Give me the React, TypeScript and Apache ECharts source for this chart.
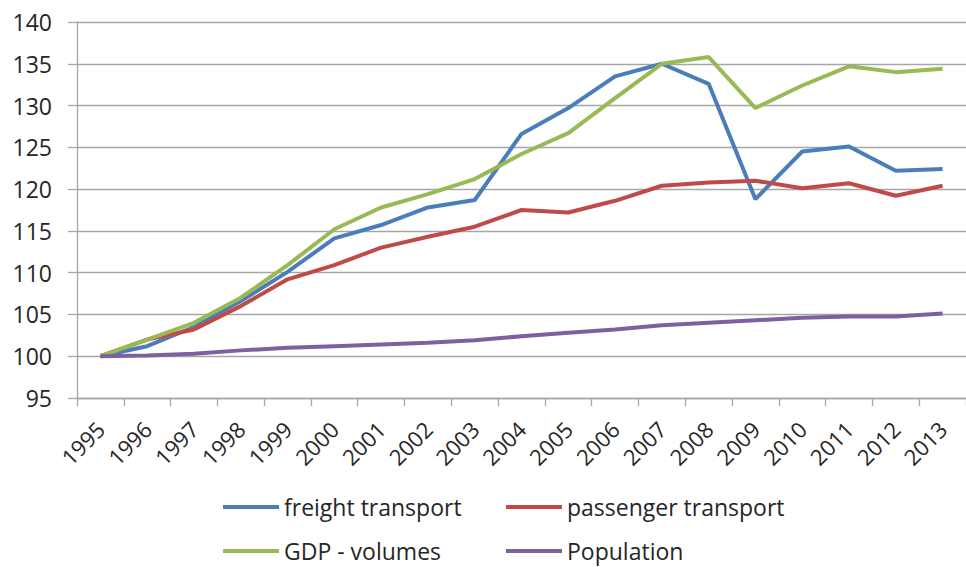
import React, { useEffect, useRef } from "react";
import * as echarts from "echarts";

const years = ["1995","1996","1997","1998","1999","2000","2001","2002","2003","2004","2005","2006","2007","2008","2009","2010","2011","2012","2013"];
const freight = [100, 101.2, 103.5, 106.6, 110.1, 114.1, 115.7, 117.8, 118.7, 126.6, 129.7, 133.5, 135.0, 132.6, 118.8, 124.5, 125.1, 122.2, 122.4];
const passenger = [100, 102.0, 103.2, 106.0, 109.2, 110.9, 113.0, 114.3, 115.5, 117.5, 117.2, 118.6, 120.4, 120.8, 121.0, 120.1, 120.7, 119.2, 120.4];
const gdp = [100, 102.0, 104.0, 107.0, 110.9, 115.2, 117.8, 119.4, 121.2, 124.2, 126.7, 130.9, 135.0, 135.8, 129.7, 132.4, 134.7, 134.0, 134.4];
const population = [100, 100.1, 100.3, 100.7, 101.0, 101.2, 101.4, 101.6, 101.9, 102.4, 102.8, 103.2, 103.7, 104.0, 104.3, 104.6, 104.75, 104.75, 105.1];

const names = ["freight transport", "passenger transport", "GDP - volumes", "Population"];
const colors = ["#4a7ebb", "#be4b48", "#98b954", "#7d60a0"];
const values = [freight, passenger, gdp, population];

const FONT = "'Open Sans', 'Noto Sans', sans-serif";

export default function App() {
  const ref = useRef<HTMLDivElement>(null);
  useEffect(() => {
    if (!ref.current) return;
    const chart = echarts.init(ref.current, null, { renderer: "svg" });
    const legendPos = [
      { left: 223, top: 494 },
      { left: 506, top: 494 },
      { left: 223, top: 538 },
      { left: 506, top: 538 },
    ];
    chart.setOption({
      animation: false,
      backgroundColor: "#ffffff",
      textStyle: { fontFamily: FONT },
      grid: { left: 77, top: 22, width: 898, height: 376, containLabel: false },
      legend: names.map((n, i) => ({
        data: [n],
        left: legendPos[i].left,
        top: legendPos[i].top,
        padding: 0,
        icon: "rect",
        itemWidth: 56,
        itemHeight: 4,
        textStyle: { fontFamily: FONT, fontSize: 23, color: "#262626", lineHeight: 26 },
      })),
      xAxis: {
        type: "category",
        data: years,
        boundaryGap: true,
        axisLine: { lineStyle: { color: "#a6a6a6", width: 1.3 } },
        axisTick: { show: true, length: 8, lineStyle: { color: "#a6a6a6", width: 1.3 } },
        axisLabel: { rotate: 45, margin: 27, fontSize: 22, color: "#262626", fontFamily: FONT, interval: 0 },
        splitLine: { show: false },
      },
      yAxis: {
        type: "value",
        min: 95,
        max: 140,
        interval: 5,
        axisLine: { show: true, lineStyle: { color: "#a6a6a6", width: 1.3 } },
        axisTick: { show: true, length: 9, lineStyle: { color: "#a6a6a6", width: 1.3 } },
        axisLabel: { margin: 25, fontSize: 23, color: "#262626", fontFamily: FONT },
        splitLine: { show: true, lineStyle: { color: "#a6a6a6", width: 1.3 } },
      },
      series: names.map((n, i) => ({
        name: n,
        type: "line",
        data: values[i],
        symbol: "none",
        smooth: false,
        itemStyle: { color: colors[i] },
        lineStyle: { color: colors[i], width: 4 },
      })),
    });
    return () => chart.dispose();
  }, []);
  return (
    <div
      ref={ref}
      style={{ position: "fixed", left: 0, top: 0, width: 966, height: 567, background: "#fff" }}
    />
  );
}
